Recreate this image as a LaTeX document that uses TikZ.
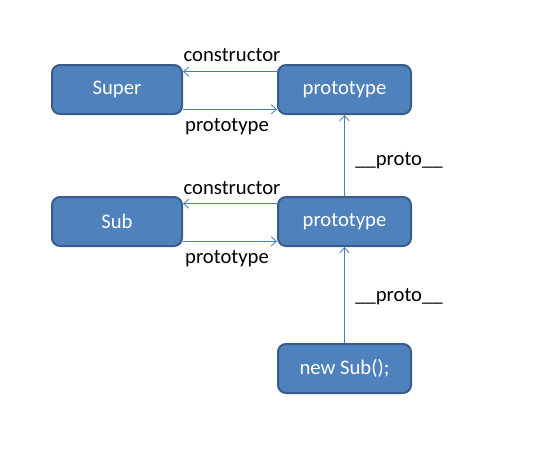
\documentclass[tikz,border=0pt]{standalone}
\usepackage{fontspec}
\setmainfont{Carlito}
\usetikzlibrary{positioning, arrows.meta, calc}
\definecolor{boxfill}{HTML}{4F81BD}
\definecolor{boxline}{HTML}{385D8A}
\definecolor{linkcol}{HTML}{4A7EBB}

\begin{document}
\begin{tikzpicture}[x=0.75pt, y=-0.75pt, font=\fontsize{15.5}{18}\selectfont,
    objbox/.style={draw=boxline, line width=1.5pt, fill=boxfill, text=white, rounded corners=6pt,
        minimum height=36.75pt, inner sep=0pt},
    link/.style={draw=linkcol, line width=0.6pt, -{Straight Barb[length=4pt, width=7pt]}},
    lbl/.style={text=black, inner sep=1pt}]
    \useasboundingbox (0,0) rectangle (543,458);
    % left column
    \node[objbox, minimum width=97.5pt] (Super) at (117,89.5) {Super};
    \node[objbox, minimum width=97.5pt] (Sub) at (117,221.5) {Sub};
    % prototype objects
    \node[objbox, minimum width=99.75pt] (SuperProto) at (344.5,89.5) {prototype};
    \node[objbox, minimum width=99.75pt] (SubProto) at (344.5,221.5) {prototype};
    \node[objbox, minimum width=99.75pt] (Inst) at (344.5,368.5) {new Sub();};

    % constructor / prototype links
    \coordinate (c1) at ($(SuperProto.north west)!0.15!(SuperProto.south west)$);
    \coordinate (p1) at ($(Super.north east)!0.89!(Super.south east)$);
    \draw[link] (c1) -- (Super.east |- c1);
    \draw[link] (p1) -- (SuperProto.west |- p1);
    \coordinate (c2) at ($(SubProto.north west)!0.15!(SubProto.south west)$);
    \coordinate (p2) at ($(Sub.north east)!0.89!(Sub.south east)$);
    \draw[link] (c2) -- (Sub.east |- c2);
    \draw[link] (p2) -- (SubProto.west |- p2);
    \node[lbl] at (232,55) {constructor};
    \node[lbl] at (227,127) {prototype};
    \node[lbl] at (232,188) {constructor};
    \node[lbl] at (227,259) {prototype};

    % proto chain
    \draw[link] (SubProto.north) -- (SuperProto.south);
    \draw[link] (Inst.north) -- (SubProto.south);
    \node[lbl] at (399,161) {\_\_proto\_\_};
    \node[lbl] at (399,297) {\_\_proto\_\_};
\end{tikzpicture}
\end{document}
